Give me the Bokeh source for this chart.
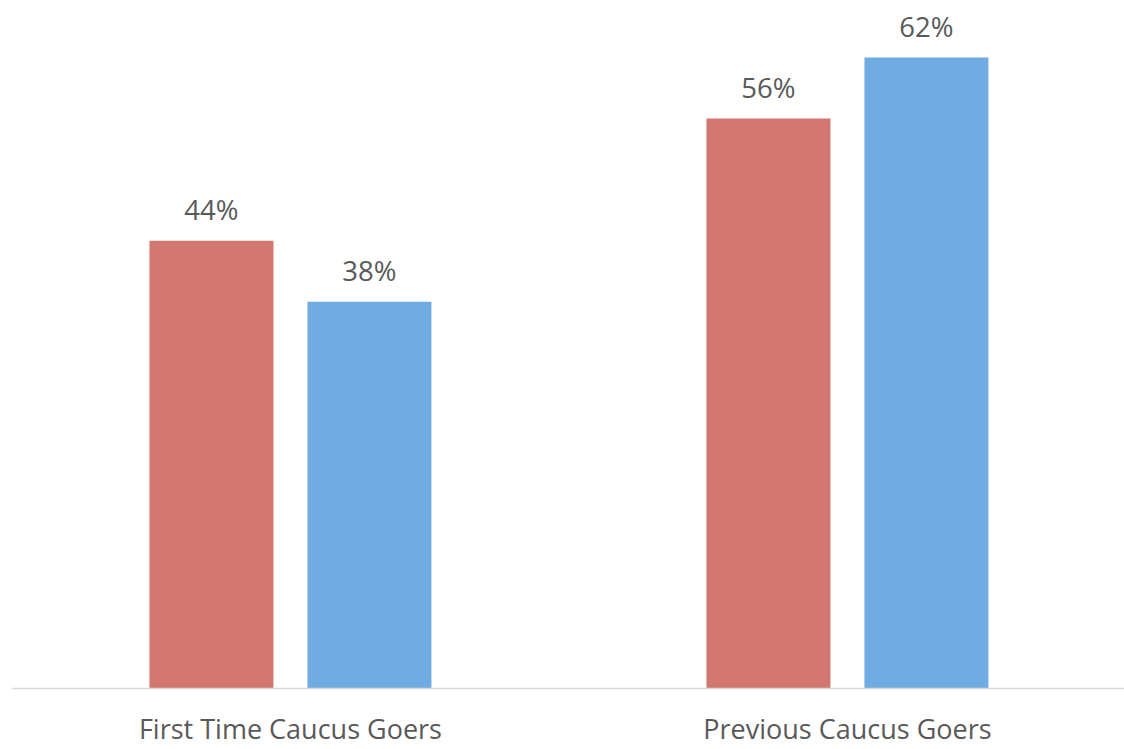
from bokeh.plotting import figure
from bokeh.models import ColumnDataSource, Range1d, FixedTicker
from bokeh.core.properties import value
from bokeh.embed import file_html
from bokeh.resources import INLINE

categories = ["First Time Caucus Goers", "Previous Caucus Goers"]
red_values = [44, 56]
blue_values = [38, 62]

RED = "#D2776F"
BLUE = "#70ACE1"
TEXT = "#595959"
FONT = "Open Sans"

idx = list(range(len(categories)))
bar_w = 0.2226
off = 0.1418

red_src = ColumnDataSource(dict(x=[i - off for i in idx], top=red_values,
                                label=[f"{v}%" for v in red_values]))
blue_src = ColumnDataSource(dict(x=[i + off for i in idx], top=blue_values,
                                 label=[f"{v}%" for v in blue_values]))

W, H = 1124, 749
left = 12
p = figure(width=W, height=H, output_backend="svg", toolbar_location=None,
           x_range=Range1d(-0.499, -0.499 + (W - left) / 557.0),
           y_range=Range1d(0, 688 / 10.177),
           min_border_left=left, min_border_right=0, min_border_top=0, min_border_bottom=61)

p.vbar(x="x", top="top", width=bar_w, bottom=0, source=red_src, color=RED, line_color=None)
p.vbar(x="x", top="top", width=bar_w, bottom=0, source=blue_src, color=BLUE, line_color=None)

for src in (red_src, blue_src):
    p.text(x="x", y="top", text="label", source=src, text_align="center",
           text_baseline="alphabetic", y_offset=-31, text_color=TEXT,
           text_font=value(FONT), text_font_size="27.5px")

p.yaxis.visible = False
p.grid.visible = False
p.outline_line_color = None
p.background_fill_color = "white"
p.border_fill_color = "white"

xa = p.xaxis[0]
xa.ticker = FixedTicker(ticks=idx)
xa.major_label_overrides = {i: c for i, c in zip(idx, categories)}
xa.major_tick_line_color = None
xa.minor_tick_line_color = None
xa.axis_line_color = "#D9D9D9"
xa.axis_line_width = 1.5
xa.major_label_text_font = FONT
xa.major_label_text_font_size = "27px"
xa.major_label_text_color = TEXT
xa.major_label_standoff = 15

open("out.html", "w").write(file_html(p, INLINE))
